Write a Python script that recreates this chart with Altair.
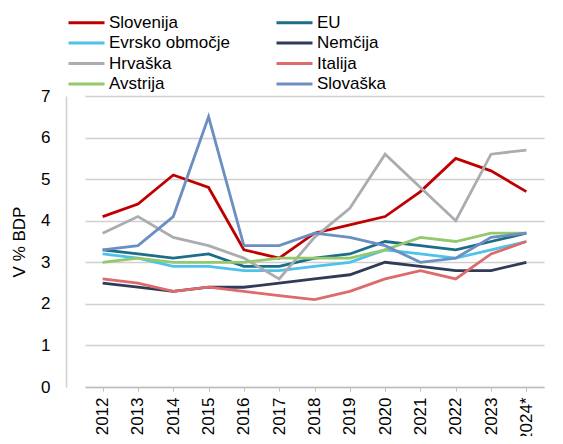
import altair as alt
import pandas as pd

years = ["2012", "2013", "2014", "2015", "2016", "2017", "2018", "2019",
         "2020", "2021", "2022", "2023", "2024*"]

series_names = ["Slovenija", "EU", "Evrsko območje", "Nemčija",
                "Hrvaška", "Italija", "Avstrija", "Slovaška"]

slovenija = [4.1, 4.4, 5.1, 4.8, 3.3, 3.1, 3.7, 3.9, 4.1, 4.7, 5.5, 5.2, 4.7]
eu = [3.3, 3.2, 3.1, 3.2, 2.9, 2.9, 3.1, 3.2, 3.5, 3.4, 3.3, 3.5, 3.7]
evrsko = [3.2, 3.1, 2.9, 2.9, 2.8, 2.8, 2.9, 3.0, 3.3, 3.2, 3.1, 3.3, 3.5]
nemcija = [2.5, 2.4, 2.3, 2.4, 2.4, 2.5, 2.6, 2.7, 3.0, 2.9, 2.8, 2.8, 3.0]
hrvaska = [3.7, 4.1, 3.6, 3.4, 3.1, 2.6, 3.6, 4.3, 5.6, 4.8, 4.0, 5.6, 5.7]
italija = [2.6, 2.5, 2.3, 2.4, 2.3, 2.2, 2.1, 2.3, 2.6, 2.8, 2.6, 3.2, 3.5]
avstrija = [3.0, 3.1, 3.0, 3.0, 3.0, 3.1, 3.1, 3.1, 3.3, 3.6, 3.5, 3.7, 3.7]
slovaska = [3.3, 3.4, 4.1, 6.5, 3.4, 3.4, 3.7, 3.6, 3.4, 3.0, 3.1, 3.6, 3.7]

colors = ["#C00000", "#1B6D88", "#4DC3EA", "#2F3B57",
          "#A9ADB1", "#DE6B6B", "#94C86A", "#6B8FC0"]

values = [slovenija, eu, evrsko, nemcija, hrvaska, italija, avstrija, slovaska]

rows = []
for name, vals in zip(series_names, values):
    for i, (y, v) in enumerate(zip(years, vals)):
        rows.append({"leto": y, "serija": name, "vrednost": v, "idx": i})
df = pd.DataFrame(rows)

font = "Liberation Sans"

chart = alt.Chart(df).mark_line(strokeWidth=2.8).encode(
    x=alt.X("leto:O", sort=years,
            scale=alt.Scale(type="point", range=[19, 478]),
            axis=alt.Axis(title=None, labelAngle=270, labelAlign="right",
                          labelBaseline="middle", labelFontSize=17,
                          labelColor="#000000", labelFont=font,
                          labelPadding=6, tickSize=4, tickColor="#BFBFBF",
                          domainColor="#BFBFBF", domainWidth=1.5,
                          grid=False)),
    y=alt.Y("vrednost:Q",
            scale=alt.Scale(domain=[0, 7], nice=False),
            axis=alt.Axis(title="V % BDP", values=[0, 1, 2, 3, 4, 5, 6, 7],
                          labelFontSize=17, labelColor="#000000",
                          labelFont=font, labelPadding=16, ticks=False,
                          titleFontSize=17, titleFont=font,
                          titleFontWeight="normal", titleColor="#000000",
                          titlePadding=12,
                          domainColor="#D0D0D0", domainWidth=1.5,
                          gridColor="#D0D0D0", gridWidth=1.5)),
    color=alt.Color("serija:N",
                    scale=alt.Scale(domain=series_names, range=colors),
                    sort=series_names,
                    legend=alt.Legend(title=None, orient="none",
                                      direction="horizontal",
                                      legendX=1, legendY=-84,
                                      columns=2, columnPadding=40,
                                      rowPadding=1.5,
                                      symbolType="M-1,0H3",
                                      symbolSize=324,
                                      symbolStrokeWidth=3,
                                      labelFontSize=17, labelFont=font,
                                      labelColor="#000000",
                                      labelOffset=21)),
    order=alt.Order("idx:Q"),
).properties(
    width=489,
    height=291,
    padding={"left": 58, "top": 88, "right": 0, "bottom": 49},
    autosize=alt.AutoSizeParams(type="none"),
).configure_view(stroke=None)

chart.save("out.html", embed_options={"renderer": "svg", "actions": False})
